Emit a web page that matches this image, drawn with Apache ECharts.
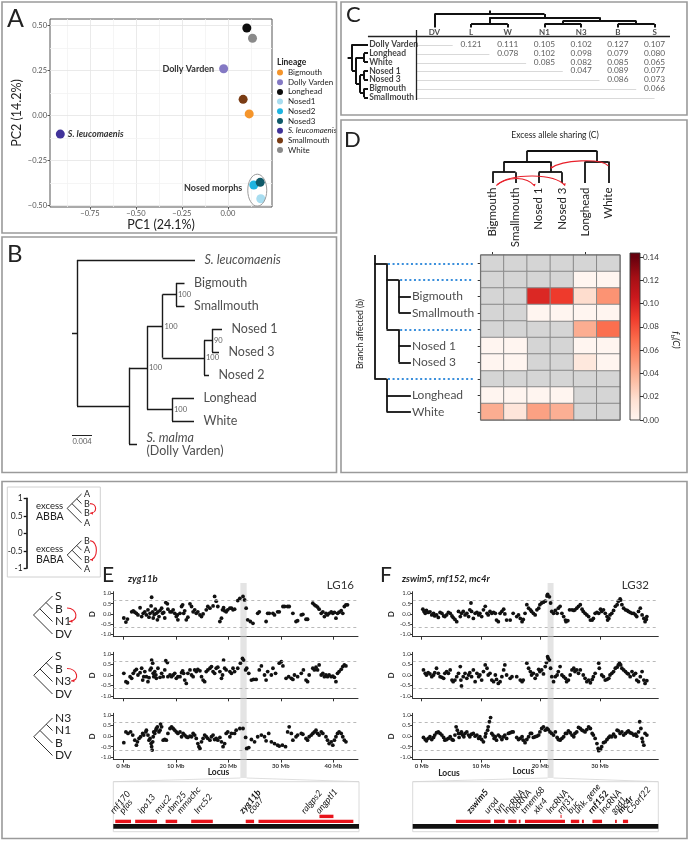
<!DOCTYPE html>
<html>
<head>
<meta charset="utf-8">
<title>Figure</title>
<script src="https://cdn.jsdelivr.net/npm/echarts@6.0.0/dist/echarts.min.js"></script>
<style>
html,body{margin:0;padding:0;background:#ffffff;}
#chart{width:689px;height:842px;}
</style>
</head>
<body>
<div id="chart"></div>
<script>
/* ======================= DATA ======================= */
// Panel A - PCA
const pcaNames = ['Bigmouth','Dolly Varden','Longhead','Nosed1','Nosed2','Nosed3','S. leucomaenis','Smallmouth','White'];
const pcaPC1   = [0.116,-0.023,0.103,0.179,0.141,0.176,-0.911,0.083,0.134];
const pcaPC2   = [0.010,0.261,0.487,-0.461,-0.385,-0.370,-0.102,0.091,0.430];
const pcaXTicks = [-0.75,-0.5,-0.25,0];
const pcaYTicks = [-0.5,-0.25,0,0.25,0.5];

// Panel B - tree (node, parent, branch length, bootstrap, tip label)
const bId      = ['root','sleu','ingroup','core','bsn','bs','big','sml','nos','n13','n1','n3','n2','lw','lng','wht','smal'];
const bParent  = ['','root','root','ingroup','core','bsn','bs','bs','bsn','nos','n13','n13','nos','core','lw','lw','ingroup'];
const bLength  = [0,0.0236,0.0104,0.0036,0.0031,0.0027,0.0017,0.0017,0.0083,0.0016,0.0020,0.0014,0.0010,0.0050,0.0044,0.0044,0.0016];
const bSupport = [null,null,null,100,100,100,null,null,100,90,null,null,null,100,null,null,null];
const bTip     = ['','S. leucomaenis','','','','','Bigmouth','Smallmouth','','','Nosed 1','Nosed 3','Nosed 2','','Longhead','White','S. malma'];
const bScale   = 0.004;

// Panel C - pairwise distance table
const cCols = ['DV','L','W','N1','N3','B','S'];
const cRows = ['Dolly Varden','Longhead','White','Nosed 1','Nosed 3','Bigmouth','Smallmouth'];
const cTree = ['DV',[['L','W'],[['N1','N3'],['B','S']]]];
const cRowDV = [null,0.121,0.111,0.105,0.102,0.127,0.107];
const cRowL  = [null,null,0.078,0.102,0.098,0.079,0.080];
const cRowW  = [null,null,null,0.085,0.082,0.085,0.065];
const cRowN1 = [null,null,null,null,0.047,0.089,0.077];
const cRowN3 = [null,null,null,null,null,0.086,0.073];
const cRowB  = [null,null,null,null,null,null,0.066];
const cRowS  = [null,null,null,null,null,null,null];

// Panel D - f-branch heatmap (rows = branches in tree pre-order, null = not tested)
const dCols = ['Bigmouth','Smallmouth','Nosed 1','Nosed 3','Longhead','White'];
const dTree = [[['Bigmouth','Smallmouth'],['Nosed 1','Nosed 3']],['Longhead','White']];
const dFb = [
  [null,null,null,null,null,null],
  [null,null,null,null,0,0],
  [null,null,0.097,0.088,0.019,0.052],
  [null,null,0,0,0,0],
  [null,null,null,null,0.041,0.068],
  [0,0,null,null,0,0],
  [0,0,null,null,0.011,0],
  [null,null,null,null,null,null],
  [0,0,0,0,null,null],
  [0.041,0.013,0.046,0.040,null,null]
];
const fbTicks = [0,0.02,0.04,0.06,0.08,0.10,0.12,0.14];

// Panels E/F - sliding-window D statistics [Mb, D]
const mbTicks = [0,10,20,30,40];
const dStatTicks = [-1,-0.5,0,0.5,1];
const dThreshold = 0.65;
const bandE = [22.3,23.5];
const bandF = [21.2,22.2];
const dE1 = [[0.1,-0.2],[0.5,-0.4],[0.8,-0.25],[1.6,0.1],[1.9,0.15],[2.2,0.08],[2.5,0.03],[2.8,-0.05],[3.2,0.3],[3.5,-0.13],[3.8,0.03],[4.1,0.1],[4.4,-0.05],[4.7,0.2],[4.9,-0.16],[5.1,0.03],[5.3,0.39],[5.4,0.81],[5.6,0.1],[5.7,-0.2],[5.9,-0.03],[6.1,0.23],[6.3,0.03],[6.5,-0.29],[6.6,0.1],[6.8,-0.13],[7.0,0.16],[7.3,0.28],[7.5,0.03],[7.7,0.07],[7.9,-0.2],[8.1,0.55],[8.4,0.49],[8.5,0.23],[8.9,0.1],[9.2,0.1],[9.5,0.2],[9.8,0.03],[10.1,-0.13],[10.3,-0.05],[10.4,-0.29],[10.8,0.03],[11.1,0.36],[11.3,0.44],[11.5,0.03],[11.7,0.15],[12.0,-0.29],[12.3,-0.16],[12.7,0.49],[13.0,0.36],[13.3,0.1],[13.6,0.2],[13.9,0.03],[14.2,0.1],[14.6,-0.05],[14.9,-0.13],[15.2,0],[15.8,0.2],[16.1,0.36],[16.5,0.28],[17.1,0.39],[17.4,0.85],[17.7,0.62],[18.0,0.36],[18.4,-0.37],[18.7,-0.21],[18.9,0.2],[19.1,0.3],[19.3,0.15],[19.6,0.1],[19.9,0.2],[20.3,0.28],[20.6,0.28],[20.9,0.2],[21.2,0.23],[21.8,0.65],[22.2,0.76],[22.8,0.85],[23.1,0.68],[23.4,0.28],[23.7,-0.29],[24.2,-0.37],[24.7,-0.46],[25.6,0.03],[25.9,0.1],[27.2,-0.37],[27.5,0.03],[27.8,0.03],[28.5,0.03],[28.8,-0.05],[29.4,0.1],[29.7,0.1],[30.4,0.36],[30.7,0.36],[31.3,0.36],[31.6,0.36],[32.3,0.03],[32.9,-0.37],[33.2,-0.33],[33.9,-0.05],[34.2,-0.02],[34.8,-0.26],[35.1,-0.26],[36.1,0.52],[36.4,0.44],[36.7,0.39],[37.0,0.33],[37.3,0.23],[37.7,0.03],[38.0,0.1],[38.3,-0.13],[38.6,0.03],[38.9,-0.05],[39.2,0.03],[39.6,0.1],[39.9,0.03],[40.2,0.07],[40.5,-0.21],[40.8,0.03],[41.1,0.08],[41.5,0.16],[41.8,0.03],[42.1,0.36],[42.4,0.44],[42.7,0.44]];
const dE2 = [[0.1,0.08],[0.5,-0.32],[0.8,-0.37],[1.3,-0.08],[1.6,-0.16],[1.9,0.08],[2.2,0.2],[2.5,0.27],[2.8,0],[3.2,0.11],[3.5,0.32],[3.7,-0.24],[3.9,-0.08],[4.1,0.16],[4.4,-0.08],[4.7,-0.32],[4.9,-0.13],[5.1,0.24],[5.3,0.32],[5.4,0.71],[5.6,0.56],[5.7,0.08],[5.8,-0.08],[6.0,0.16],[6.2,0],[6.3,-0.16],[6.6,0.32],[7.0,-0.11],[7.3,0.08],[7.6,-0.08],[7.9,0.24],[8.1,0.68],[8.4,0.59],[8.5,-0.08],[8.9,0],[9.2,-0.08],[9.5,0],[9.8,0.08],[10.1,-0.16],[10.4,-0.08],[10.8,-0.08],[11.1,0.11],[11.3,0.2],[11.5,0.08],[11.7,-0.24],[12.0,-0.4],[12.3,0.08],[12.7,0.24],[13.0,0],[13.3,-0.08],[13.6,0.24],[13.9,0.16],[14.2,0.27],[14.6,0.2],[14.9,-0.08],[15.2,-0.24],[15.5,-0.32],[15.8,0.16],[16.1,0.24],[16.5,0.32],[16.8,0.4],[17.1,0.16],[17.4,0.08],[17.7,0.32],[18.0,0.37],[18.4,0.16],[18.7,-0.16],[18.9,0],[19.1,0.71],[19.3,0.32],[19.6,0.24],[20.3,0.16],[20.6,0.08],[20.9,0.32],[21.2,0.16],[21.8,0.32],[22.3,0.56],[22.7,0.79],[22.9,0.71],[23.3,0.24],[23.5,0.32],[23.9,0.08],[24.4,-0.24],[24.8,-0.21],[25.3,-0.21],[25.9,0.24],[26.3,0.43],[26.9,0],[27.2,-0.24],[27.5,0.16],[28.2,0],[28.5,0.32],[29.0,0.08],[29.7,0.56],[30.1,0.63],[30.4,0.43],[31.0,-0.16],[31.5,-0.08],[32.0,-0.16],[32.3,-0.21],[32.6,0],[33.2,-0.08],[33.9,0.08],[34.3,0.24],[34.8,-0.24],[35.1,-0.32],[35.4,0],[36.1,0.32],[36.4,0.24],[36.7,0.37],[37.0,0.24],[37.3,0.48],[37.7,0],[38.0,0.08],[38.3,-0.08],[38.6,0],[38.9,-0.08],[39.2,0],[39.6,-0.08],[39.9,-0.05],[40.2,-0.11],[40.5,-0.32],[40.8,0.08],[41.1,0.16],[41.5,0.27],[41.8,0.4],[42.1,0.48],[42.4,0.43]];
const dE3 = [[0.1,-0.31],[0.5,0.2],[0.9,0.13],[1.4,0.2],[1.8,0.05],[2.2,-0.19],[2.5,-0.43],[2.7,-0.27],[3.0,-0.11],[3.3,-0.03],[3.7,0.13],[3.9,0.05],[4.3,0.2],[4.4,0.28],[4.7,0.05],[4.9,-0.19],[5.1,-0.11],[5.3,-0.35],[5.4,-0.5],[5.5,-0.66],[5.6,-0.27],[5.7,-0.03],[5.8,0.2],[6.0,0.13],[6.2,0.28],[6.3,0.36],[6.5,0.44],[6.8,0.2],[7.0,0.28],[7.1,0.57],[7.3,0.44],[7.6,-0.19],[7.9,-0.16],[8.2,-0.19],[8.5,0.13],[8.9,0.36],[9.2,0.44],[9.5,0.36],[9.8,0.28],[10.1,0.2],[10.4,0.13],[10.8,0.2],[11.1,-0.03],[11.4,0.13],[11.7,0.05],[12.0,-0.03],[12.3,-0.06],[12.7,0],[13.0,-0.03],[13.3,0.13],[13.6,0.05],[13.9,-0.11],[14.2,-0.35],[14.4,-0.5],[14.6,-0.58],[14.9,-0.27],[15.2,-0.11],[15.5,0.05],[15.8,-0.03],[16.1,-0.11],[16.5,-0.19],[16.8,-0.03],[17.1,0.05],[17.4,-0.16],[17.7,-0.11],[18.0,-0.19],[18.4,-0.06],[18.7,-0.27],[19.0,-0.5],[19.3,-0.35],[19.6,0.13],[19.9,0.2],[20.3,-0.03],[20.6,0.13],[21.2,0.13],[21.5,0.28],[22.2,0.36],[22.8,0.36],[23.3,-0.06],[23.5,-0.58],[23.9,-0.54],[24.4,-0.16],[25.0,-0.27],[25.6,-0.03],[26.3,0.05],[26.9,-0.03],[27.2,-0.22],[27.7,0.13],[28.2,-0.27],[28.8,-0.35],[29.4,-0.43],[29.7,-0.47],[30.3,-0.43],[30.9,-0.5],[31.3,0.2],[31.6,0.44],[32.0,0.13],[32.3,-0.19],[32.9,-0.03],[33.2,0.05],[33.9,0.13],[34.2,0.09],[34.8,-0.11],[35.1,-0.19],[35.4,-0.03],[35.8,0.05],[36.1,0.13],[36.4,0.2],[36.7,0.28],[37.0,0.13],[37.3,0.05],[37.7,0.2],[38.0,0.13],[38.6,-0.03],[38.9,-0.19],[39.2,-0.35],[39.6,-0.27],[39.9,-0.43],[40.2,-0.19],[40.5,-0.03],[40.8,0.13],[41.1,0.2],[41.5,0.13],[41.8,-0.03],[42.1,-0.19],[42.4,-0.27]];
const dF1 = [[0.2,0.23],[0.4,0.12],[0.6,0.03],[0.8,0.17],[1.1,0.07],[1.4,0.1],[1.7,-0.05],[2.0,0.03],[2.2,-0.1],[2.5,-0.05],[2.8,-0.17],[3.1,0.07],[3.4,0.03],[3.7,-0.1],[3.9,-0.13],[4.2,-0.05],[4.5,0.07],[4.8,0.03],[5.1,-0.1],[5.3,-0.18],[5.6,-0.27],[5.9,-0.38],[6.2,0.12],[6.5,-0.13],[6.7,0.03],[7.0,0.12],[7.3,-0.05],[7.6,0.03],[7.9,-0.13],[8.1,0.2],[8.3,0.53],[8.4,0.12],[8.7,-0.22],[9.0,0.03],[9.3,0.07],[9.6,-0.05],[9.8,0.03],[10.1,-0.13],[10.4,0.2],[10.7,0.37],[11.0,0.03],[11.2,-0.05],[11.5,0.12],[11.8,0.03],[12.1,0.07],[12.4,0.03],[12.6,-0.3],[12.9,-0.38],[13.2,0.03],[13.5,0.12],[13.8,0.23],[14.0,0],[14.3,-0.3],[14.9,-0.3],[15.4,0.03],[16.0,-0.13],[16.3,-0.05],[16.6,-0.22],[16.9,-0.38],[17.1,-0.27],[17.4,0.03],[17.7,0.45],[18.0,0.28],[18.3,0.2],[18.5,0.12],[18.8,0.03],[19.1,-0.05],[19.4,0.2],[19.7,0.28],[19.9,0.45],[20.2,0.53],[20.5,0.57],[20.8,0.62],[21.1,0.87],[21.2,0.95],[21.5,0.83],[21.7,0.53],[21.9,0.12],[22.2,0.03],[22.5,0.17],[22.8,0.03],[23.0,0.28],[23.3,0.37],[23.6,0.03],[23.9,-0.13],[24.2,-0.3],[24.3,-0.38],[24.6,-0.33],[24.9,0.2],[25.3,0.2],[25.6,0.17],[25.8,0.2],[26.1,0.28],[26.4,0.37],[26.7,0.45],[27.0,0.23],[27.2,0.12],[27.5,0.03],[27.8,-0.05],[28.1,-0.13],[28.4,-0.3],[28.7,-0.3],[28.9,-0.22],[29.2,0.03],[29.5,0.07],[29.8,0.03],[30.1,0.23],[30.3,0.12],[30.6,0.2],[30.9,0.03],[31.2,-0.13],[31.3,-0.3],[31.5,-0.22],[31.7,-0.05],[32.0,0.03],[32.3,0.17],[32.6,0.37],[32.9,0.45],[33.1,0.62],[33.4,0.73],[33.5,0.67],[33.7,0.45],[34.0,0.28],[34.3,0.2],[34.6,0.17],[34.8,0.12],[35.1,0.07],[35.4,0.03],[35.7,0.03],[36.0,-0.05],[36.2,-0.13],[36.5,0.12],[36.8,0.28],[37.1,-0.05],[37.4,-0.22],[37.6,-0.38],[37.8,-0.27],[37.9,-0.13]];
const dF2 = [[0.3,0.24],[0.6,0.08],[0.8,0],[1.1,0.11],[1.4,0.05],[1.7,-0.08],[2.0,0],[2.2,0.11],[2.5,0.32],[2.8,0.08],[3.1,-0.08],[3.4,-0.11],[3.7,-0.16],[3.9,0.08],[4.2,0.16],[4.5,0.08],[4.8,0.24],[5.1,-0.24],[5.3,-0.32],[5.6,-0.24],[5.9,-0.08],[6.2,0.08],[6.5,0.4],[6.6,-0.24],[6.7,-0.52],[7.0,-0.08],[7.3,0.08],[7.6,-0.16],[7.9,0],[8.1,0.11],[8.4,-0.08],[8.7,0.24],[9.0,-0.32],[9.3,0.08],[9.6,-0.08],[9.8,0],[10.1,-0.24],[10.4,0.16],[10.7,0.48],[11.0,0.32],[11.2,0],[11.5,0.08],[11.8,-0.24],[12.1,-0.32],[12.4,0],[12.6,-0.21],[12.9,-0.4],[13.2,-0.32],[13.5,-0.08],[13.8,0.24],[14.0,0.48],[14.3,0],[14.9,-0.16],[15.2,-0.08],[16.0,-0.08],[16.6,-0.24],[16.9,-0.32],[17.1,-0.24],[17.7,0.56],[18.0,0.32],[18.3,0.16],[18.5,0],[18.8,0.08],[19.1,-0.16],[19.4,0],[19.7,0.27],[19.9,0.16],[20.2,0.24],[20.5,0.05],[20.8,0.4],[21.0,0.59],[21.2,0.87],[21.3,0.79],[21.5,0.71],[21.7,0.32],[21.9,-0.08],[22.2,-0.32],[22.5,-0.08],[22.8,0],[23.0,0.16],[23.3,0.4],[23.6,0],[23.9,-0.08],[24.2,-0.16],[24.4,-0.32],[24.7,-0.24],[25.0,0],[25.3,0.24],[25.6,0.32],[25.8,0.16],[26.1,0.24],[26.4,0.08],[26.7,0.24],[27.2,0],[27.5,-0.16],[27.8,-0.32],[28.1,-0.24],[28.4,-0.37],[28.7,-0.21],[28.9,-0.08],[29.2,0.08],[29.8,0.56],[29.9,0.32],[30.3,0],[30.6,-0.08],[30.9,-0.24],[31.2,-0.21],[31.5,-0.16],[31.7,0],[32.0,0.08],[32.3,0.16],[32.6,0.32],[32.9,0.37],[33.1,0.48],[33.3,0.56],[33.5,0.48],[33.7,0.32],[34.0,0.24],[34.3,0.16],[34.6,0.08],[34.8,0.05],[35.1,-0.08],[35.4,0.16],[35.7,0],[36.0,0.08],[36.2,-0.24],[36.5,-0.32],[36.8,-0.08],[37.1,0.16],[37.4,-0.24],[37.6,-0.4],[37.9,-0.27]];
const dF3 = [[0.3,-0.06],[0.6,-0.16],[0.8,-0.22],[1.1,-0.11],[1.4,-0.03],[1.7,-0.16],[2.0,-0.06],[2.2,0.05],[2.5,0.16],[2.8,0.2],[3.1,0.13],[3.4,0.05],[3.7,-0.06],[3.9,-0.19],[4.2,-0.16],[4.5,-0.11],[4.8,-0.03],[5.1,-0.16],[5.3,-0.19],[5.6,0.05],[5.8,0.44],[6.0,0.28],[6.2,0.13],[6.3,-0.06],[6.6,0.13],[6.7,0.2],[6.9,0.05],[7.1,-0.03],[7.3,0.13],[7.6,0.2],[7.9,0.05],[8.1,-0.03],[8.4,0.09],[8.7,0.13],[9.0,0],[9.3,0.05],[9.6,-0.11],[9.8,-0.03],[10.1,-0.16],[10.4,-0.27],[10.7,-0.03],[10.8,0.13],[11.1,0.28],[11.2,0.44],[11.4,0.68],[11.6,0.88],[11.8,0.13],[12.0,0.05],[12.2,-0.11],[12.4,-0.03],[12.6,-0.19],[12.9,0.05],[13.2,-0.03],[13.5,-0.16],[13.8,-0.03],[14.0,0.05],[14.3,-0.11],[14.6,0.13],[14.9,0.16],[15.2,0.2],[15.4,0.2],[16.0,-0.06],[16.3,-0.16],[16.6,-0.11],[16.9,-0.03],[17.1,-0.19],[17.4,-0.31],[17.7,-0.16],[18.0,-0.03],[18.3,0.13],[18.5,0.13],[18.8,-0.06],[19.1,-0.03],[19.4,0],[19.7,0.05],[19.9,0.2],[20.2,0.36],[20.5,0.44],[20.8,0.28],[21.1,0.36],[21.3,0.31],[21.6,0.2],[21.9,0.13],[22.2,0.05],[22.5,0.2],[22.8,-0.06],[23.0,-0.16],[23.3,-0.19],[23.6,-0.11],[23.9,-0.03],[24.2,0.13],[24.4,0.13],[24.7,0.25],[25.0,0.16],[25.3,0.05],[25.6,-0.03],[25.8,0.13],[26.1,0.2],[26.4,0.41],[26.7,0.36],[27.0,0.28],[27.2,0.25],[27.5,0.2],[27.8,0.31],[28.1,0.44],[28.4,0.36],[28.7,0.13],[28.9,0.05],[29.2,-0.11],[29.5,-0.35],[29.7,-0.58],[29.8,-0.69],[30.1,-0.63],[30.3,-0.5],[30.6,-0.31],[30.9,-0.27],[31.2,-0.16],[31.5,-0.06],[31.7,0],[32.0,-0.03],[32.3,0.09],[32.6,-0.03],[32.9,0.28],[33.1,0.25],[33.4,0.13],[33.7,0.2],[34.0,0.05],[34.3,0.13],[34.6,0.2],[34.8,0.25],[35.1,0.16],[35.4,0.13],[35.7,0.05],[36.0,0.09],[36.2,0],[36.5,0.2],[36.7,0.68],[36.9,0.36],[37.1,-0.11],[37.2,-0.27],[37.4,-0.43],[37.6,0.13],[37.9,0.05]];

// Gene tracks (positions as fraction of the zoomed window)
const geneStartE = [0.008,0.089,0.213,0.317,0.539,0.591,0.839];
const geneEndE   = [0.072,0.178,0.260,0.405,0.573,0.977,0.896];
const geneRowE   = [0,0,0,0,0,0,1];
const labelE     = ['rnf170','pfas','ipo13','muc2','rbm25','mmachc','lrrc52','zyg11b','coa7','ralgps2','angptl1'];
const labelPosE  = [0.008,0.045,0.121,0.188,0.238,0.279,0.351,0.534,0.570,0.785,0.844];
const geneStartF = [0.176,0.331,0.389,0.432,0.457,0.644,0.689,0.732,0.824,0.856,0.602];
const geneEndF   = [0.317,0.375,0.423,0.439,0.620,0.678,0.697,0.771,0.831,0.877,0.605];
const geneRowF   = [0,0,0,0,0,0,0,0,0,0,1];
const labelF     = ['zswim5','urod','lyn','lncRNA','lncRNA','tmem68','xkr4','lncRNA','rnf31','buc','unk. gene','rnf152','lncRNA','gad1','mc4r','C5orf22'];
const labelPosF  = [0.240,0.312,0.353,0.389,0.417,0.461,0.511,0.566,0.609,0.650,0.678,0.735,0.783,0.828,0.854,0.892];
const focalGenes = ['zyg11b','zswim5','rnf152','mc4r'];

/* ======================= STYLE / LAYOUT ======================= */
const FONT = 'Lato, "Open Sans", "Liberation Sans", sans-serif';
const pcaColors = ['#F5952B','#8479C4','#0d0d0d','#A8DDF0','#1EB4E1','#0F5A69','#41339A','#7A3C14','#8A8A8A'];
const REDS = ['#fff5f0','#fee0d2','#fcbba1','#fc9272','#fb6a4a','#ef3b2c','#cb181d','#a50f15','#67000d'];
const CLEAR = 'rgba(0,0,0,0)';

const chart = echarts.init(document.getElementById('chart'), null, {renderer:'canvas', width:689, height:842});
const grid=[], xAxis=[], yAxis=[], series=[], G=[];
function addGrid(g,x,y){
  grid.push(g); const i=grid.length-1;
  const fix=a=>Object.assign({gridIndex:i, splitLine:{show:false}}, a, {axisLine:Object.assign({onZero:false}, a.axisLine||{})});
  xAxis.push(fix(x)); yAxis.push(fix(y)); return i;
}
const hid=(min,max,inv)=>({type:'value',show:false,min:min,max:max,inverse:!!inv});
function T(x,y,text,o){o=o||{};const s=Object.assign({text:text,fill:'#222',fontSize:10,fontFamily:FONT,fontWeight:'normal',fontStyle:'normal',align:'left',verticalAlign:'middle'},o);s.textAlign=s.align;s.textVerticalAlign=s.verticalAlign;G.push({type:'text',x:x,y:y,rotation:o.rot||0,z:20,silent:true,style:s});}
function L(x1,y1,x2,y2,stroke,w,dash){G.push({type:'line',z:15,silent:true,shape:{x1:x1,y1:y1,x2:x2,y2:y2},style:{stroke:stroke||'#222',lineWidth:w||1,lineDash:dash||null}});}
function R(x,y,w,h,stroke,lw){G.push({type:'rect',z:14,silent:true,shape:{x:x,y:y,width:w,height:h},style:{stroke:stroke,lineWidth:lw||1,fill:CLEAR}});}
function ARC(x1,y1,x2,y2,c1x,c1y,c2x,c2y,col){G.push({type:'bezierCurve',z:16,silent:true,shape:{x1:x1,y1:y1,x2:x2,y2:y2,cpx1:c1x,cpy1:c1y,cpx2:c2x,cpy2:c2y},style:{stroke:col,lineWidth:1.1,fill:null}});}
function HEAD(x,y,ang,col,s){s=s||3.2;const p=[[x,y],[x-s*Math.cos(ang-0.5),y-s*Math.sin(ang-0.5)],[x-s*Math.cos(ang+0.5),y-s*Math.sin(ang+0.5)]];G.push({type:'polygon',z:16,silent:true,shape:{points:p},style:{fill:col}});}
function slantTree(xTip,ys,labels,fs){
  const y0=ys[0], yl=ys[ys.length-1]; const xr=xTip-(yl-y0)/2, yr=(y0+yl)/2;
  L(xr,yr,xTip,y0,'#333',1);
  ys.forEach((y,k)=>{ if(k===0) return; const d=(y-y0)/2; L(xTip-d,y0+d,xTip,y,'#333',1); });
  labels.forEach((t,k)=>T(xTip+2.5,ys[k],t,{fontSize:fs}));
}
function clado(t,depth,leafPos){
  if(typeof t==='string') return {name:t,pos:leafPos(t),h:0,depth:depth,kids:[]};
  const kids=t.map(c=>clado(c,depth+1,leafPos));
  return {pos:(kids[0].pos+kids[kids.length-1].pos)/2,h:1+Math.max.apply(null,kids.map(k=>k.h)),depth:depth,kids:kids};
}
function cladoSegs(n,lvl,out){
  if(!n.kids.length) return out;
  out.push([[n.kids[0].pos,lvl(n)],[n.kids[n.kids.length-1].pos,lvl(n)]]);
  n.kids.forEach(k=>{out.push([[k.pos,lvl(n)],[k.pos,lvl(k)]]); cladoSegs(k,lvl,out);});
  return out;
}
function linesSeries(g,segs,style,z){return {type:'lines',coordinateSystem:'cartesian2d',xAxisIndex:g,yAxisIndex:g,silent:true,z:z||3,polyline:false,lineStyle:Object.assign({opacity:1},style),data:segs.map(c=>({coords:c}))};}
function textSeries(g,items,lab,z){return {type:'scatter',xAxisIndex:g,yAxisIndex:g,silent:true,z:z||4,symbolSize:1,clip:false,itemStyle:{color:CLEAR},data:items,label:Object.assign({show:true,color:'#222',fontFamily:FONT},lab),labelLayout:{hideOverlap:false}};}

/* ======================= PANEL A ======================= */
const fmtA=v=>(v<0?'\u2212':'')+Math.abs(v).toFixed(2);
const A_X=[-0.967,0.24], A_Y=[-0.507,0.537];
const gA=addGrid({left:50,top:19,width:222,height:188,show:true,borderColor:'#555',borderWidth:1,backgroundColor:'#fff'},
  {type:'value',min:A_X[0],max:A_X[1],axisLine:{show:false},
   axisTick:{show:true,customValues:pcaXTicks,length:2.5,lineStyle:{color:'#555'}},
   axisLabel:{customValues:pcaXTicks,formatter:fmtA,fontSize:7.5,color:'#555',margin:3,fontFamily:FONT},
   name:'PC1 (24.1%)',nameLocation:'middle',nameGap:10,nameTextStyle:{fontSize:12.5,color:'#222',fontFamily:FONT}},
  {type:'value',min:A_Y[0],max:A_Y[1],axisLine:{show:false},
   axisTick:{show:true,customValues:pcaYTicks,length:2.5,lineStyle:{color:'#555'}},
   axisLabel:{customValues:pcaYTicks,formatter:fmtA,fontSize:7.5,color:'#555',margin:3,fontFamily:FONT},
   name:'PC2 (14.2%)',nameLocation:'middle',nameGap:16,nameTextStyle:{fontSize:12.5,color:'#222',fontFamily:FONT}});
(function(){
  const segs=[];
  for(let v=-1;v<=0.25;v+=0.125){ if(v>A_X[0]&&v<A_X[1]) segs.push({coords:[[v,A_Y[0]],[v,A_Y[1]]],lineStyle:{color:(Math.abs(v*4-Math.round(v*4))<1e-6)?'#e4e4e4':'#f2f2f2',width:0.8}}); }
  for(let v=-0.5;v<=0.5001;v+=0.125){ segs.push({coords:[[A_X[0],v],[A_X[1],v]],lineStyle:{color:(Math.abs(v*4-Math.round(v*4))<1e-6)?'#e4e4e4':'#f2f2f2',width:0.8}}); }
  series.push({type:'lines',coordinateSystem:'cartesian2d',xAxisIndex:gA,yAxisIndex:gA,silent:true,z:1,lineStyle:{opacity:1},data:segs});
})();
pcaNames.forEach((n,i)=>{
  let label={show:false};
  if(n==='Dolly Varden') label={show:true,position:'left',distance:5,formatter:'Dolly Varden',fontSize:9,fontWeight:'bold',color:'#333',fontFamily:FONT};
  if(n==='S. leucomaenis') label={show:true,position:'right',distance:3,formatter:'S. leucomaenis',fontSize:9,fontWeight:'bold',fontStyle:'italic',color:'#333',fontFamily:FONT};
  if(n==='Nosed2') label={show:true,position:'left',distance:7,formatter:'Nosed morphs',fontSize:9,fontWeight:'bold',color:'#333',fontFamily:FONT,offset:[0,3]};
  series.push({type:'scatter',name:n,xAxisIndex:gA,yAxisIndex:gA,z:3,symbolSize:9,silent:true,itemStyle:{color:pcaColors[i],opacity:1},data:[[pcaPC1[i],pcaPC2[i]]],label:label});
});

/* ======================= PANEL B ======================= */
const gB=addGrid({left:62,top:250,width:268,height:220}, hid(-0.003,0.0506), hid(-0.435,9.13,true));
(function(){
  const kids={}, bx={}, by={}; bId.forEach(id=>kids[id]=[]);
  bId.forEach((id,i)=>{ if(bParent[i]) kids[bParent[i]].push(id); });
  let leaf=0;
  (function lay(id,x0){ const i=bId.indexOf(id); const x=x0+bLength[i]; bx[id]=x; const k=kids[id];
    if(!k.length){by[id]=leaf++;} else {k.forEach(c=>lay(c,x)); by[id]=(by[k[0]]+by[k[k.length-1]])/2;} })('root',0);
  const segs=[];
  bId.forEach((id,i)=>{ if(bParent[i]) segs.push([[bx[bParent[i]],by[id]],[bx[id],by[id]]]);
    const k=kids[id]; if(k.length) segs.push([[bx[id],by[k[0]]],[bx[id],by[k[k.length-1]]]]); });
  segs.push([[-0.001,by.root],[0,by.root]]);
  series.push(linesSeries(gB,segs,{color:'#1a1a1a',width:1.4}));
  const tips=[]; const sup=[];
  bId.forEach((id,i)=>{
    if(bTip[i]){
      const it=bTip[i]==='S. leucomaenis'||bTip[i]==='S. malma';
      tips.push({value:[bx[id],by[id]],label:{formatter:bTip[i]==='S. malma'?'{i|S. malma}\n(Dolly Varden)':(it?'{i|'+bTip[i]+'}':bTip[i]),
        offset:bTip[i]==='S. malma'?[0,6.5]:[0,0]}});
    }
    if(bSupport[i]!==null) sup.push({value:[bx[id],by[id]],label:{formatter:String(bSupport[i])}});
  });
  series.push(textSeries(gB,tips,{position:'right',distance:9,fontSize:12.5,lineHeight:13,rich:{i:{fontStyle:'italic',fontSize:12.5,fontFamily:FONT,lineHeight:13}}}));
  series.push(textSeries(gB,sup,{position:'right',distance:1.5,fontSize:7.5,color:'#333'}));
  const yBar=7.6;
  series.push(linesSeries(gB,[[[-0.001,yBar],[-0.001+bScale,yBar]]],{color:'#222',width:1}));
  series.push(textSeries(gB,[{value:[-0.001+bScale/2,yBar],label:{formatter:String(bScale)}}],{position:'bottom',distance:2,fontSize:7.5,color:'#333'}));
})();

/* ======================= PANEL C ======================= */
const gC=addGrid({left:341,top:5,width:340,height:105}, hid(-2.544,6.72), hid(-4.45,7.44,true));
(function(){
  const mat=[cRowDV,cRowL,cRowW,cRowN1,cRowN3,cRowB,cRowS];
  const root=clado(cTree,0,n=>cCols.indexOf(n));
  const topLv=n=>-1.9-n.h*0.385, leftLv=n=>-1.808-n.h*0.109;
  const tsegs=cladoSegs(root,topLv,[]); tsegs.push([[root.pos,topLv(root)],[root.pos,topLv(root)-0.4]]);
  const lsegs=cladoSegs(root,leftLv,[]).map(s=>[[s[0][1],s[0][0]],[s[1][1],s[1][0]]]);
  lsegs.push([[leftLv(root),root.pos],[leftLv(root)-0.12,root.pos]]);
  series.push(linesSeries(gC,tsegs.concat(lsegs),{color:'#111',width:2}));
  series.push(linesSeries(gC,cRows.map((r,i)=>[[-0.5,i+0.1],[Math.min(i+0.5,6),i+0.1]]),{color:'#cfcfcf',width:0.8},2));
  series.push(linesSeries(gC,[[[-1.81,-0.86],[6.42,-0.86]],[[-0.5,-1.62],[-0.5,6.3]]],{color:'#222',width:1.3}));
  series.push(textSeries(gC,cCols.map((c,j)=>({value:[j,-1.3],label:{formatter:c}})),{position:'inside',fontSize:8,fontWeight:'bold'}));
  series.push(textSeries(gC,cRows.map((r,i)=>({value:[-1.79,i],label:{formatter:r}})),{position:'right',distance:0,fontSize:8.5,fontWeight:'bold',color:'#111'}));
  const vals=[]; mat.forEach((row,i)=>row.forEach((v,j)=>{ if(v!==null) vals.push({value:[j,i],label:{formatter:v.toFixed(3)}}); }));
  series.push(textSeries(gC,vals,{position:'inside',fontSize:8.3,color:'#333'}));
})();

/* ======================= PANEL D ======================= */
const dRows=[];
function dWalk(t,depth,pd){const leaf=typeof t==='string';const rec={name:leaf?t:'',depth:depth,leaf:leaf,pd:pd,row:dRows.length,kids:[]};dRows.push(rec);if(!leaf)rec.kids=t.map(c=>dWalk(c,depth+1,depth));return rec;}
const dTopKids=dTree.map(c=>dWalk(c,1,0));
const dMaxDepth=Math.max.apply(null,dRows.filter(r=>r.leaf).map(r=>r.depth));
const HM={left:480.7,top:255,width:139.3,height:165};
const gD=addGrid(HM,
  {type:'category',data:dCols,position:'top',axisLine:{show:false},axisTick:{show:true,alignWithLabel:true,length:3,lineStyle:{color:'#333'}},axisLabel:{show:false}},
  {type:'category',data:dRows.map((r,i)=>String(i)),inverse:true,axisLine:{show:false},axisTick:{show:true,alignWithLabel:true,length:3,lineStyle:{color:'#333'}},axisLabel:{show:false}});
const naCells=[], valCells=[];
dFb.forEach((row,r)=>row.forEach((v,c)=>{ if(v===null) naCells.push([c,r,0]); else valCells.push([c,r,v]); }));
series.push({type:'heatmap',xAxisIndex:gD,yAxisIndex:gD,data:naCells,silent:true,itemStyle:{color:'#d5d5d5',borderColor:'#8a8a8a',borderWidth:1},emphasis:{disabled:true}});
const fbSeriesIndex=series.length;
series.push({type:'heatmap',xAxisIndex:gD,yAxisIndex:gD,data:valCells,silent:true,itemStyle:{borderColor:'#8a8a8a',borderWidth:1},emphasis:{disabled:true}});
const gDL=addGrid({left:360,top:255,width:120.7,height:165}, hid(-1.172,8.721), hid(-0.5,9.5,true));
(function(){
  const segs=[], dots=[], labs=[];
  dRows.forEach(r=>{ const x=r.leaf?dMaxDepth:r.depth; segs.push([[r.pd,r.row],[x,r.row]]);
    if(!r.leaf){ segs.push([[r.depth,r.row],[r.depth,r.kids[r.kids.length-1].row]]); dots.push([[r.depth+0.12,r.row],[8.13,r.row]]); }
    else labs.push({value:[dMaxDepth,r.row],label:{formatter:r.name}}); });
  segs.push([[0,-0.5],[0,dTopKids[dTopKids.length-1].row]]);
  series.push(linesSeries(gDL,segs,{color:'#111',width:1.8}));
  series.push(linesSeries(gDL,dots,{color:'#3a8fdc',width:2,type:[2,2.6]}));
  series.push(textSeries(gDL,labs,{position:'right',distance:0.5,fontSize:12,color:'#222'}));
})();
const gDT=addGrid({left:480.7,top:145,width:139.3,height:45}, hid(-0.5,5.5), hid(-0.53,3.65,true));
const dTopRoot=clado(dTree,0,n=>dCols.indexOf(n));
series.push(linesSeries(gDT,cladoSegs(dTopRoot,n=>n.kids.length?n.depth:dMaxDepth,[]),{color:'#111',width:1.8}));
const CB={left:630,top:253,width:10,height:167};
const gCB=addGrid(CB, hid(0,1),
  {type:'value',min:0,max:0.1435,position:'right',axisLine:{show:false},
   axisTick:{show:true,customValues:fbTicks,length:3,lineStyle:{color:'#333'}},
   axisLabel:{customValues:fbTicks,formatter:v=>v.toFixed(2),fontSize:8,color:'#333',margin:3,fontFamily:FONT}});
series.push({type:'custom',xAxisIndex:gCB,yAxisIndex:gCB,silent:true,z:2,data:[[0.5,0.07]],renderItem:function(p,api){
  const cs=p.coordSys; const mx=0.1435, top=0.14;
  const stops=REDS.map((c,k)=>({offset:1-(k/(REDS.length-1))*top/mx,color:c})).reverse();
  stops.unshift({offset:0,color:REDS[REDS.length-1]});
  return {type:'rect',shape:{x:cs.x,y:cs.y,width:cs.width,height:cs.height},style:{fill:new echarts.graphic.LinearGradient(0,0,0,1,stops)}};
}});

/* ======================= INSET (ABBA/BABA) ======================= */
const gIn=addGrid({left:26.7,top:498.3,width:1,height:70}, hid(0,1),
  {type:'value',min:-1,max:1,interval:0.5,axisLine:{show:true,lineStyle:{color:'#111',width:1.6}},
   axisTick:{show:true,length:3,lineStyle:{color:'#111',width:1.3}},
   axisLabel:{fontSize:8.5,color:'#222',margin:4,fontFamily:FONT,formatter:v=>String(v)}});
series.push({type:'scatter',xAxisIndex:gIn,yAxisIndex:gIn,data:[],silent:true});

/* ======================= PANELS E / F ======================= */
const DROWS=[{top:591.7,h:45},{top:652.3,h:46},{top:713.3,h:46.3}];
function dPanel(left,width,xr,row,data,showX,nameGap){
  const g=addGrid({left:left,top:row.top,width:width,height:row.h},
    {type:'value',min:xr[0],max:xr[1],axisLine:{show:true,lineStyle:{color:'#333',width:1}},
     axisTick:{show:true,customValues:mbTicks,length:3,lineStyle:{color:'#333'}},
     axisLabel:{show:showX,customValues:mbTicks,formatter:v=>v+' Mb',fontSize:6,fontWeight:'bold',color:'#333',margin:3,fontFamily:FONT}},
    {type:'value',min:-1.11,max:1.08,axisLine:{show:true,lineStyle:{color:'#333',width:1}},
     axisTick:{show:true,customValues:dStatTicks,length:2.5,lineStyle:{color:'#333'}},
     axisLabel:{customValues:dStatTicks,formatter:v=>v.toFixed(1),fontSize:6,color:'#333',margin:2,fontFamily:FONT},
     name:'D',nameLocation:'middle',nameGap:nameGap,nameTextStyle:{fontSize:7.5,fontWeight:'bold',color:'#222',fontFamily:FONT}});
  series.push({type:'scatter',xAxisIndex:g,yAxisIndex:g,data:data,symbolSize:3.8,silent:true,z:4,itemStyle:{color:'#111',opacity:1},
    markLine:{silent:true,symbol:'none',label:{show:false},lineStyle:{type:[3,3],color:'#a8a8a8',width:0.8},data:[{yAxis:dThreshold},{yAxis:-dThreshold}]}});
  return g;
}
const E_X=[-1.9,44.7], F_X=[-1.51,39.83];
const E_L=113.3,E_W=244.7,F_L=412.7,F_W=245.6;
function band(left,width,xr,b){
  const g=addGrid({left:left,top:583,width:width,height:195}, hid(xr[0],xr[1]), hid(0,1));
  series.push({type:'custom',xAxisIndex:g,yAxisIndex:g,silent:true,z:1,data:[b],renderItem:function(p,api){
    const a=api.coord([api.value(0),1]), c=api.coord([api.value(1),0]);
    return {type:'rect',shape:{x:a[0],y:a[1],width:c[0]-a[0],height:c[1]-a[1]},style:{fill:'rgba(205,205,205,0.55)'}};}});
  return g;
}
const gBandE=band(E_L,E_W,E_X,bandE), gBandF=band(F_L,F_W,F_X,bandF);
dPanel(E_L,E_W,E_X,DROWS[0],dE1,false,14);
dPanel(E_L,E_W,E_X,DROWS[1],dE2,false,14);
dPanel(E_L,E_W,E_X,DROWS[2],dE3,true,14);
dPanel(F_L,F_W,F_X,DROWS[0],dF1,false,17);
dPanel(F_L,F_W,F_X,DROWS[1],dF2,false,17);
dPanel(F_L,F_W,F_X,DROWS[2],dF3,true,17);

const ANG=50*Math.PI/180;
function geneTrack(left,width,starts,ends,rows,labels,lpos){
  const g=addGrid({left:left,top:781.7,width:width,height:50,show:true,borderColor:'#dadada',borderWidth:1}, hid(0,1), hid(0,1));
  series.push({type:'custom',xAxisIndex:g,yAxisIndex:g,silent:true,z:3,data:[[0,1]],renderItem:function(p,api){
    const a=api.coord([api.value(0),0.106]), b=api.coord([api.value(1),0.106]);
    return {type:'rect',shape:{x:a[0],y:a[1]-2.3,width:b[0]-a[0],height:4.6},style:{fill:'#111'}};}});
  series.push({type:'custom',xAxisIndex:g,yAxisIndex:g,silent:true,z:3,data:starts.map((s,i)=>[s,ends[i],rows[i]]),renderItem:function(p,api){
    const y=api.value(2)?0.306:0.206; const a=api.coord([api.value(0),y]), b=api.coord([api.value(1),y]);
    return {type:'rect',shape:{x:a[0],y:a[1]-1.7,width:Math.max(1,b[0]-a[0]),height:3.4},style:{fill:'#E8131B'}};}});
  series.push({type:'custom',xAxisIndex:g,yAxisIndex:g,silent:true,z:3,data:lpos.map((v,i)=>[v,i]),renderItem:function(p,api){
    const t=labels[p.dataIndex]; const a=api.coord([api.value(0),0.33]); const f=focalGenes.indexOf(t)>=0;
    return {type:'text',x:a[0],y:a[1],rotation:ANG,style:{text:t,fill:'#111',fontSize:9,fontStyle:'italic',fontWeight:f?'bold':'normal',fontFamily:FONT,align:'left',verticalAlign:'bottom',textAlign:'left',textVerticalAlign:'bottom'}};}});
  return g;
}
const gGeneE=geneTrack(113.3,245.7,geneStartE,geneEndE,geneRowE,labelE,labelPosE);
const gGeneF=geneTrack(412.7,245.6,geneStartF,geneEndF,geneRowF,labelF,labelPosF);

/* ======================= STATIC GRAPHICS ======================= */
R(2,2,334.5,231,'#9a9a9a',1.6); R(2,237,334.5,235.5,'#9a9a9a',1.6);
R(341,2,346,113,'#9a9a9a',1.6); R(341,120,346,352.5,'#9a9a9a',1.6);
R(2,481.5,685,357,'#9a9a9a',1.6);
R(7.3,487,93,90,'#d0d0d0',1);
T(7,19,'A',{fontSize:25}); T(7,254,'B',{fontSize:24}); T(346,14.5,'C',{fontSize:22});
T(344,139.5,'D',{fontSize:22}); T(102,575,'E',{fontSize:21}); T(380,575,'F',{fontSize:21});
T(277,62.5,'Lineage',{fontSize:8.5,fontWeight:'bold'});
T(555,135,'Excess allele sharing (C)',{fontSize:8.5,align:'center'});
T(360,334,'Branch affected (b)',{fontSize:8.5,align:'center',rot:Math.PI/2});
G.push({type:'text',x:676,y:340,rotation:-Math.PI/2,z:20,silent:true,style:{text:'{f|f}{s|b}{f|(C)}',align:'center',verticalAlign:'middle',textAlign:'center',textVerticalAlign:'middle',fill:'#222',fontFamily:FONT,rich:{f:{fontSize:9.5,fontFamily:FONT,fontStyle:'italic'},s:{fontSize:6.5,fontFamily:FONT,verticalAlign:'bottom',padding:[5,0,0,0]}}}});
R(HM.left,HM.top,HM.width,HM.height,'#6a6a6a',1);
R(CB.left,CB.top,CB.width,CB.height,'#333',0.9);
T(36,506,'excess',{fontSize:9.5}); T(36,516.5,'ABBA',{fontSize:10.5});
T(36,548.5,'excess',{fontSize:9.5}); T(36,559.5,'BABA',{fontSize:10.5});
slantTree(81.5,[494,503.6,513.2,522.8],['A','B','B','A'],9);
slantTree(81.5,[540.7,550.2,559.7,569.3],['B','A','B','A'],9);
ARC(90,503.6,90,513.2,97.5,503.6,97.5,513.2,'#e8202a'); HEAD(90.3,513.2,Math.PI,'#e8202a',3);
ARC(90,540.7,90,559.7,98.5,540.7,98.5,559.7,'#e8202a'); HEAD(90.3,559.7,Math.PI,'#e8202a',3);
slantTree(52.5,[596,609,621.5,634],['S','B','N1','DV'],12);
slantTree(52.5,[656.5,669,681.5,694],['S','B','N3','DV'],12);
slantTree(52.5,[718,730.5,743,755.5],['N3','N1','B','DV'],12);
ARC(67,608,69,621.5,78,608,79,621.5,'#e8202a'); HEAD(69.5,621.5,Math.PI*0.97,'#e8202a',3.2);
ARC(67,668.5,71,681,78,668.5,80,681,'#e8202a'); HEAD(71.5,681,Math.PI*0.97,'#e8202a',3.2);
T(128,579,'zyg11b',{fontSize:9.5,fontWeight:'bold',fontStyle:'italic'});
T(354,585,'LG16',{fontSize:11.5,align:'right',fill:'#333'});
T(402,579,'zswim5, rnf152, mc4r',{fontSize:9.5,fontWeight:'bold',fontStyle:'italic'});
T(649,585,'LG32',{fontSize:11.5,align:'right',fill:'#333'});
T(218.5,772.7,'Locus',{fontSize:8.5,fontWeight:'bold',align:'center'});
T(449,773,'Locus',{fontSize:8.5,fontWeight:'bold',align:'center'});
T(523.3,771,'Locus',{fontSize:8.5,fontWeight:'bold',align:'center'});

/* ======================= RENDER ======================= */
chart.setOption({
  animation:false, backgroundColor:'#ffffff', textStyle:{fontFamily:FONT},
  grid:grid, xAxis:xAxis, yAxis:yAxis, series:series,
  legend:{data:pcaNames,orient:'vertical',left:277,top:68,padding:0,icon:'circle',itemWidth:6,itemHeight:6,itemGap:0.7,selectedMode:false,
    textStyle:{fontSize:8,color:'#222',fontFamily:FONT,lineHeight:9,rich:{i:{fontStyle:'italic',fontSize:8,fontFamily:FONT,lineHeight:9}}},
    formatter:n=>n==='S. leucomaenis'?'{i|'+n+'}':n},
  visualMap:{type:'continuous',show:false,min:0,max:0.14,dimension:2,seriesIndex:fbSeriesIndex,inRange:{color:REDS}}
});

const P=(g,v)=>chart.convertToPixel({gridIndex:g},v);
(function(){
  const ids=['Nosed1','Nosed2','Nosed3'].map(n=>pcaNames.indexOf(n));
  const mx=ids.reduce((s,i)=>s+pcaPC1[i],0)/3, my=ids.reduce((s,i)=>s+pcaPC2[i],0)/3;
  const c=P(gA,[mx,my]);
  G.push({type:'ellipse',z:12,silent:true,shape:{cx:c[0]-1,cy:c[1]+1.5,rx:9.5,ry:16},style:{stroke:'#9a9a9a',lineWidth:1,fill:CLEAR}});
})();
dCols.forEach((c,j)=>{ const p=P(gDT,[j,dMaxDepth]); T(p[0],p[1]+4.5,c,{fontSize:11.5,align:'right',rot:Math.PI/2}); });
(function(){
  const red='#e8202a';
  const b=P(gDT,[0,dMaxDepth]), n1=P(gDT,[2,dMaxDepth]), n3=P(gDT,[3,dMaxDepth]);
  ARC(b[0]+4,b[1]+2.5,n1[0]-4,b[1]+3,b[0]+15,b[1]-7,n1[0]-12,b[1]-7,red); HEAD(n1[0]-4,b[1]+3.5,Math.PI/2.3,red,3);
  ARC(b[0]+5,b[1]+1.5,n3[0]+3,b[1]+2.5,b[0]+20,b[1]-10,n3[0]-8,b[1]-10,red); HEAD(n3[0]+3,b[1]+3,Math.PI/2.3,red,3);
  const nNode=dTopRoot.kids[0].kids[1]; const w=P(gDT,[dCols.length-1,1.4]), nn=P(gDT,[nNode.pos,1.6]);
  ARC(w[0],w[1],nn[0]+1,nn[1],w[0]-8,w[1]-8,nn[0]+12,nn[1]-8,red); HEAD(nn[0]+0.5,nn[1]+1,Math.PI*0.62,red,3);
})();
[[gBandE,bandE,gGeneE],[gBandF,bandF,gGeneF]].forEach(a=>{
  const l=P(a[0],[a[1][0],0]), r=P(a[0],[a[1][1],0]); const gl=P(a[2],[0,1]), gr=P(a[2],[1,1]);
  L(l[0],l[1],gl[0],gl[1],'#d5d5d5',0.8); L(r[0],r[1],gr[0],gr[1],'#d5d5d5',0.8);
});
chart.setOption({graphic:{elements:G}});
</script>
</body>
</html>
